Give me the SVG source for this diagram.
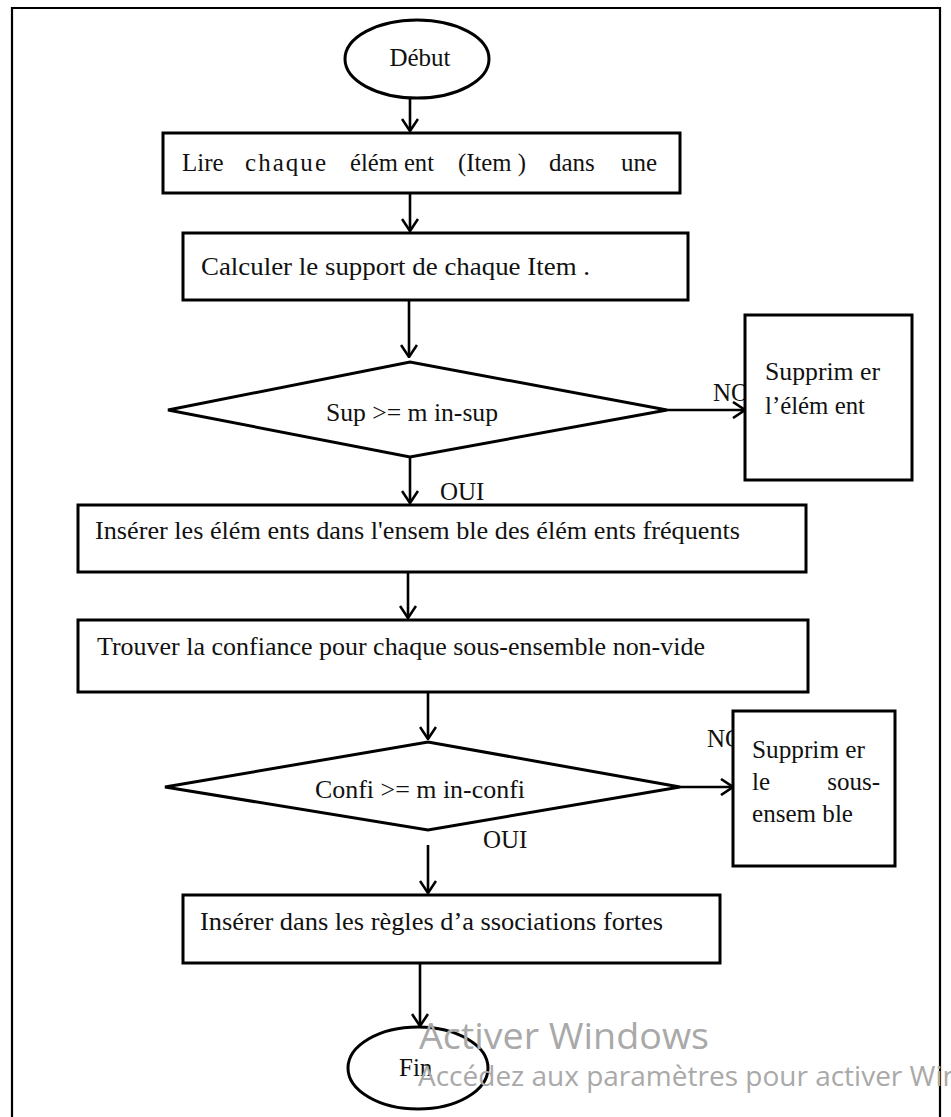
<svg xmlns="http://www.w3.org/2000/svg" width="951" height="1117" viewBox="0 0 951 1117">
  <style>
    .shape { fill: #ffffff; stroke: #000000; stroke-width: 3; }
    .link { fill: none; stroke: #000000; stroke-width: 2.6; }
    .t { font-family: "Liberation Serif", "Times New Roman", Times, serif; font-size: 25px; fill: #111111; }
    .wm1 { font-family: "Open Sans", "Noto Sans", sans-serif; font-size: 37px; fill: #a9a9a9; }
    .wm2 { font-family: "Open Sans", "Noto Sans", sans-serif; font-size: 28px; fill: #a9a9a9; }
  </style>
  <defs>
    <marker id="vhead" viewBox="0 0 14 18" refX="13" refY="9" markerWidth="14" markerHeight="18" markerUnits="userSpaceOnUse" orient="auto">
      <path d="M1,1 L13,9 L1,17" fill="none" stroke="#000000" stroke-width="2.6"/>
    </marker>
  </defs>

  <rect x="0" y="0" width="951" height="1117" fill="#ffffff"/>
  <!-- outer frame -->
  <path d="M12,1117 L12,8 L940,8 L940,1117" fill="none" stroke="#000000" stroke-width="2.2"/>

  <!-- connectors -->
  <g id="connectors">
    <line class="link" x1="410" y1="98" x2="410" y2="131" marker-end="url(#vhead)"/>
    <line class="link" x1="410" y1="193" x2="410" y2="231" marker-end="url(#vhead)"/>
    <line class="link" x1="409" y1="300" x2="409" y2="357" marker-end="url(#vhead)"/>
    <line class="link" x1="667" y1="410" x2="745" y2="410" marker-end="url(#vhead)"/>
    <line class="link" x1="410" y1="457" x2="410" y2="503" marker-end="url(#vhead)"/>
    <line class="link" x1="408" y1="572" x2="408" y2="618" marker-end="url(#vhead)"/>
    <line class="link" x1="428" y1="692" x2="428" y2="739" marker-end="url(#vhead)"/>
    <line class="link" x1="680" y1="787" x2="733" y2="787" marker-end="url(#vhead)"/>
    <line class="link" x1="428" y1="845" x2="428" y2="893" marker-end="url(#vhead)"/>
    <line class="link" x1="420" y1="963" x2="420" y2="1026" marker-end="url(#vhead)"/>
  </g>

  <!-- edge labels -->
  <g id="labels">
    <text class="t" x="713" y="401">NON</text>
    <text class="t" x="440" y="500">OUI</text>
    <text class="t" x="707" y="747">NON</text>
    <text class="t" x="483" y="848">OUI</text>
  </g>

  <g id="start">
    <ellipse class="shape" cx="417" cy="59" rx="72" ry="39"/>
    <text class="t" x="420" y="66" text-anchor="middle">Début</text>
  </g>

  <g id="read-items">
    <rect class="shape" x="163" y="133" width="517" height="60"/>
    <text class="t" x="182" y="171">Lire</text>
    <text class="t" x="245" y="171" textLength="81" lengthAdjust="spacing">chaque</text>
    <text class="t" x="350" y="171" textLength="84" lengthAdjust="spacingAndGlyphs">élém ent</text>
    <text class="t" x="458" y="171" textLength="68" lengthAdjust="spacingAndGlyphs">(Item )</text>
    <text class="t" x="549" y="171">dans</text>
    <text class="t" x="621" y="171">une</text>
  </g>

  <g id="compute-support">
    <rect class="shape" x="183" y="233" width="505" height="67"/>
    <text class="t" x="201" y="275" textLength="389" lengthAdjust="spacingAndGlyphs">Calculer le support de chaque Item .</text>
  </g>

  <g id="test-support">
    <polygon class="shape" points="168,410 410,362 667,410 410,457"/>
    <text class="t" x="326" y="421" textLength="172" lengthAdjust="spacingAndGlyphs">Sup &gt;= m in-sup</text>
  </g>

  <g id="delete-item">
    <rect class="shape" x="745" y="315" width="167" height="165"/>
    <text class="t" x="765" y="380" textLength="115" lengthAdjust="spacingAndGlyphs">Supprim er</text>
    <text class="t" x="765" y="414" textLength="100" lengthAdjust="spacingAndGlyphs">l’élém ent</text>
  </g>

  <g id="insert-frequent">
    <rect class="shape" x="78" y="505" width="728" height="67"/>
    <text class="t" x="95" y="539" textLength="645" lengthAdjust="spacingAndGlyphs">Insérer les élém ents dans l'ensem ble des élém ents fréquents</text>
  </g>

  <g id="find-confidence">
    <rect class="shape" x="78" y="620" width="730" height="72"/>
    <text class="t" x="97" y="655" textLength="608" lengthAdjust="spacingAndGlyphs">Trouver la confiance pour chaque sous-ensemble non-vide</text>
  </g>

  <g id="test-confidence">
    <polygon class="shape" points="165,787 428,742 680,787 428,830"/>
    <text class="t" x="315" y="798" textLength="210" lengthAdjust="spacingAndGlyphs">Confi &gt;= m in-confi</text>
  </g>

  <g id="delete-subset">
    <rect class="shape" x="733" y="711" width="162" height="155"/>
    <text class="t" x="752" y="758" textLength="113" lengthAdjust="spacingAndGlyphs">Supprim er</text>
    <text class="t" x="752" y="790">le</text>
    <text class="t" x="880" y="790" text-anchor="end">sous-</text>
    <text class="t" x="752" y="822" textLength="101" lengthAdjust="spacingAndGlyphs">ensem ble</text>
  </g>

  <g id="insert-rules">
    <rect class="shape" x="183" y="895" width="537" height="68"/>
    <text class="t" x="200" y="930" textLength="463" lengthAdjust="spacingAndGlyphs">Insérer dans les règles d’a ssociations fortes</text>
  </g>

  <g id="end">
    <ellipse class="shape" cx="418" cy="1068" rx="70" ry="41"/>
    <text class="t" x="399" y="1076">Fin</text>
  </g>

  <!-- system overlay text -->
  <g id="overlay">
    <text class="wm1" x="419" y="1049" textLength="290" lengthAdjust="spacingAndGlyphs">Activer Windows</text>
    <text class="wm2" x="418" y="1086">Accédez aux paramètres pour activer Windows</text>
  </g>
</svg>
